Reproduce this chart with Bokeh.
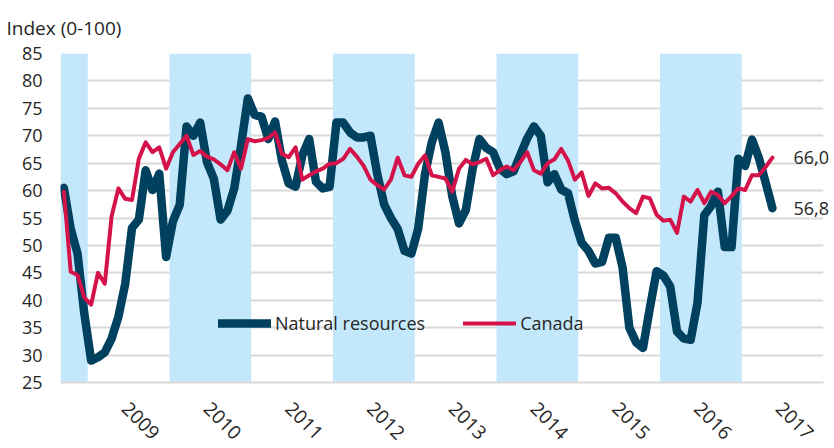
import math
from bokeh.plotting import figure
from bokeh.models import Legend, LegendItem, FixedTicker, Range1d, ColumnDataSource, LinearAxis
from bokeh.embed import file_html
from bokeh.resources import INLINE

# ---- data (monthly, Sep 2008 .. May 2017) ----
start_year, start_month = 2008, 9
natural_resources = [
    60.5, 53.0, 48.5, 37.5, 29.0, 29.6, 30.5, 33.0, 37.0, 43.0,
    53.2, 54.7, 63.7, 60.1, 63.1, 47.9, 54.4, 57.4, 71.7, 70.0,
    72.4, 65.2, 62.2, 54.7, 56.3, 60.4, 68.2, 76.8, 73.8, 73.5,
    69.4, 72.6, 65.5, 61.3, 60.7, 66.4, 69.4, 61.6, 60.4, 60.7,
    72.4, 72.4, 70.6, 69.7, 69.7, 70.0, 63.0, 57.5, 55.0, 53.0,
    49.0, 48.5, 53.0, 63.0, 68.8, 72.4, 67.0, 59.0, 54.0, 56.5,
    64.0, 69.4, 67.8, 67.0, 64.0, 63.0, 63.5, 66.5, 69.5, 71.7,
    70.0, 61.5, 63.0, 60.2, 59.5, 54.5, 50.5, 49.0, 46.7, 47.0,
    51.4, 51.4, 46.0, 35.0, 32.3, 31.3, 38.5, 45.3, 44.5, 42.5,
    34.3, 33.0, 32.8, 39.5, 55.5, 57.2, 59.8, 49.7, 49.7, 65.8,
    64.5, 69.3, 66.0, 61.5, 56.8,
]
canada = [
    59.8, 45.2, 44.6, 40.5, 39.2, 45.0, 43.0, 55.3, 60.4, 58.5,
    58.3, 65.8, 68.8, 67.0, 67.9, 64.0, 67.0, 68.5, 70.0, 66.5,
    67.2, 66.2, 65.7, 64.8, 63.7, 67.0, 64.0, 69.4, 69.0, 69.2,
    69.6, 70.6, 66.7, 66.1, 67.9, 62.0, 62.8, 63.5, 64.0, 64.9,
    65.0, 65.8, 67.6, 66.2, 64.5, 62.0, 61.0, 60.2, 62.0, 66.0,
    62.8, 62.5, 64.9, 66.4, 62.8, 62.5, 62.2, 59.8, 64.0, 65.6,
    64.8, 65.2, 65.8, 62.8, 63.7, 64.4, 63.7, 65.2, 67.0, 63.7,
    63.1, 65.0, 65.7, 67.6, 65.5, 62.0, 63.3, 59.0, 61.3, 60.4,
    60.5, 59.5, 58.0, 56.8, 55.9, 58.9, 58.6, 55.6, 54.5, 54.7,
    52.3, 58.9, 58.0, 60.1, 57.7, 59.8, 59.2, 57.7, 59.0, 60.4,
    60.1, 62.8, 62.8, 64.3, 66.0,
]
years = [2008, 2009, 2010, 2011, 2012, 2013, 2014, 2015, 2016, 2017]
shaded_years = [2008, 2010, 2012, 2014, 2016]
label_years = [2009, 2010, 2011, 2012, 2013, 2014, 2015, 2016, 2017]
y_ticks = [25, 30, 35, 40, 45, 50, 55, 60, 65, 70, 75, 80, 85]

NAVY = "#00415f"
RED = "#d4134a"
BAND = "#c3e8fb"
GRID = "#d9d9d9"
TEXT = "#262626"
FONT = "Open Sans"

def month_index(year, month):
    return (year - start_year) * 12 + (month - start_month)

x = list(range(len(natural_resources)))
x_min = -0.5
x_max = month_index(years[-1], 12) + 0.5

p = figure(width=834, height=448, x_range=Range1d(x_min, x_max), y_range=Range1d(y_ticks[0], y_ticks[-1]),
           output_backend="svg", toolbar_location=None,
           min_border_left=60, min_border_right=11, min_border_top=53, min_border_bottom=60)
p.outline_line_color = None
p.xgrid.visible = False
p.ygrid.grid_line_color = GRID
p.ygrid.grid_line_width = 2

# title
p.title.text = "Index (0-100)"
p.title.align = "left"
p.title.vertical_align = "top"
p.title.offset = -54
p.title.standoff = 22
p.title.text_font = FONT
p.title.text_font_size = "19px"
p.title.text_font_style = "normal"
p.title.text_color = TEXT

# shaded year bands
band_left = [max(x_min, month_index(y, 1) - 0.5) for y in shaded_years]
band_right = [month_index(y, 12) + 0.5 for y in shaded_years]
p.quad(left=band_left, right=band_right, bottom=y_ticks[0], top=y_ticks[-1],
       fill_color=BAND, line_color=None)

src = ColumnDataSource(dict(x=x, nr=natural_resources, ca=canada))
r_nr = p.line("x", "nr", source=src, line_color=NAVY, line_width=8.5, line_join="round", line_cap="round")
r_ca = p.line("x", "ca", source=src, line_color=RED, line_width=4, line_join="round", line_cap="round")

# axes
p.yaxis.ticker = FixedTicker(ticks=y_ticks)
p.yaxis.axis_line_color = None
p.yaxis.major_tick_line_color = None
p.yaxis.major_tick_out = 0
p.yaxis.major_tick_in = 0
p.yaxis.minor_tick_line_color = None
p.yaxis.major_label_standoff = 18
p.yaxis.major_label_text_font = FONT
p.yaxis.major_label_text_font_size = "18px"
p.yaxis.major_label_text_color = TEXT

tick_pos = [month_index(y, 6) for y in label_years]
p.xaxis.ticker = FixedTicker(ticks=tick_pos)
p.xaxis.major_label_overrides = {t: str(y) for t, y in zip(tick_pos, label_years)}
p.xaxis.major_label_orientation = -math.pi / 4
p.xaxis.axis_line_color = GRID
p.xaxis.axis_line_width = 2
p.xaxis.major_tick_line_color = None
p.xaxis.major_tick_out = 0
p.xaxis.major_tick_in = 0
p.xaxis.minor_tick_line_color = None
p.xaxis.major_label_standoff = 23
p.xaxis.major_label_text_font = FONT
p.xaxis.major_label_text_font_size = "19px"
p.xaxis.major_label_text_color = TEXT

# end-value labels as a right-hand axis
end_values = [canada[-1], natural_resources[-1]]
end_axis = LinearAxis(ticker=FixedTicker(ticks=end_values),
                      major_label_overrides={v: f"{v:.1f}".replace(".", ",") for v in end_values},
                      axis_line_color=None, major_tick_line_color=None, minor_tick_line_color=None,
                      major_tick_out=0, major_tick_in=0, major_label_standoff=-30,
                      major_label_text_font=FONT, major_label_text_font_size="18px",
                      major_label_text_color=TEXT)
p.add_layout(end_axis, "right")

# legend
legend = Legend(items=[LegendItem(label="Natural resources", renderers=[r_nr]),
                       LegendItem(label="Canada", renderers=[r_ca])],
                orientation="horizontal", location=(158, 47), margin=0, padding=0,
                spacing=38, label_standoff=4, glyph_width=53, glyph_height=20, label_height=20,
                background_fill_alpha=0, border_line_alpha=0,
                label_text_font=FONT, label_text_font_size="18px", label_text_color=TEXT)
p.add_layout(legend, "center")

open("out.html", "w").write(file_html(p, INLINE))
